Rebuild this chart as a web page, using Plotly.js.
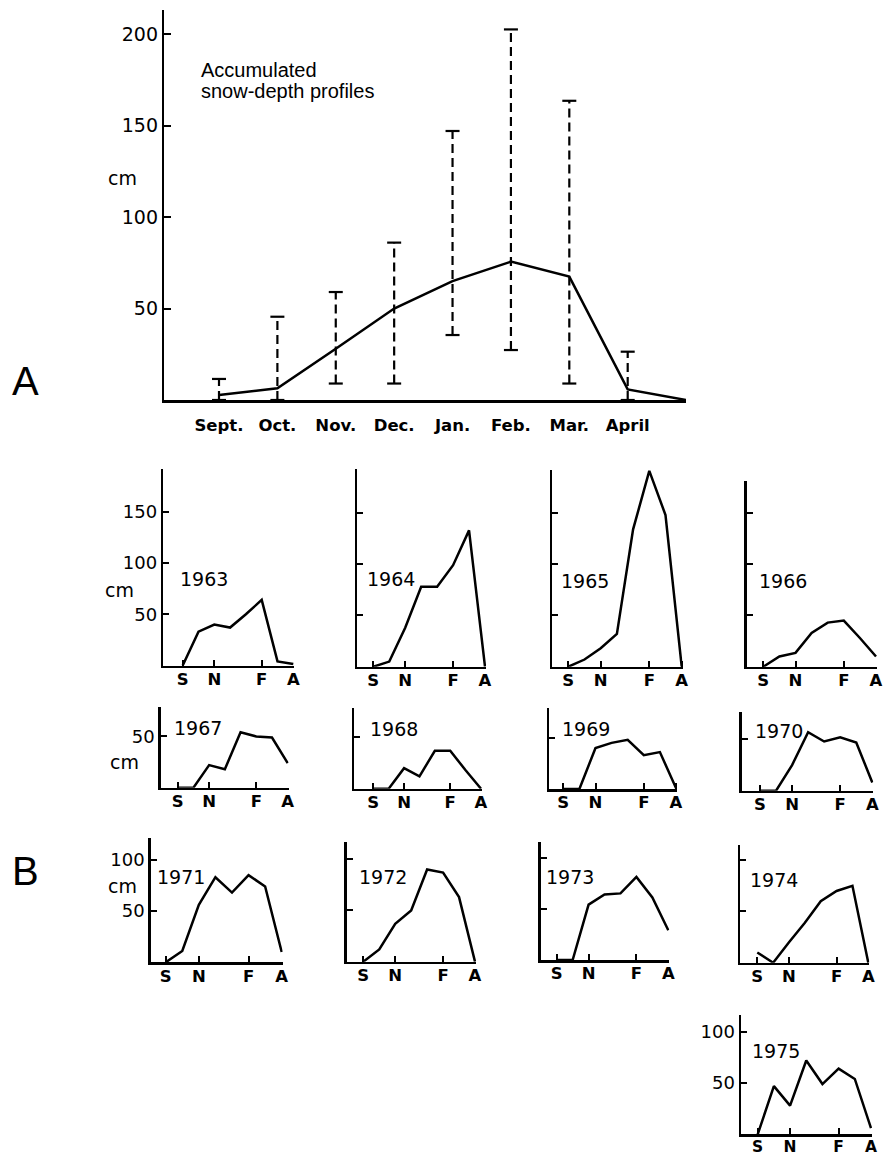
<!DOCTYPE html>
<html><head><meta charset="utf-8">
<script src="https://cdn.plot.ly/plotly-3.0.1.min.js"></script>
<style>html,body{margin:0;padding:0;background:#fff}#chart{width:883px;height:1159px}</style>
</head><body><div id="chart"></div>
<script>
// ---------- DATA ----------
// Panel A: accumulated snow-depth profiles (cm)
const monthsA = ['Sept.', 'Oct.', 'Nov.', 'Dec.', 'Jan.', 'Feb.', 'Mar.', 'April'];
const meanA = [2.7, 6.4, 28, 50, 65, 75.6, 67.4, 5.8, 0]; // last value: end of season (early May)
const highA = [11.5, 45.5, 59, 86, 147, 202.5, 163.5, 26.4];
const lowA  = [0, 0, 9, 9, 35.5, 27.3, 9, 0];

// Panel B: yearly snow-depth profiles (cm), Sep..Apr
const monthsB = ['Sep', 'Oct', 'Nov', 'Dec', 'Jan', 'Feb', 'Mar', 'Apr'];
const monthTickLabels = ['S', 'N', 'F', 'A'];
const monthTickNames = ['Sep', 'Nov', 'Feb', 'Apr'];
const years = ['1963', '1964', '1965', '1966', '1967', '1968', '1969', '1970', '1971', '1972', '1973', '1974', '1975'];
const d1963 = [0, 33, 40, 37, 50, 64, 4, 1.5];
const d1964 = [0, 5, 38, 78, 78, 99, 133, 0];
const d1965 = [0, 7, 18, 32, 134, 191, 148, 0];
const d1966 = [0, 10, 13.5, 33, 43, 45, 28, 10];
const d1967 = [0, 0, 22, 18, 54, 50, 49, 24];
const d1968 = [0, 0, 20, 12, 37, 37, 18, 0];
const d1969 = [0, 0, 40, 45, 48, 33, 36, 1];
const d1970 = [0, 0, 25, 57, 48, 52, 47, 8];
const d1971 = [0, 11, 56, 83, 68, 85, 74, 10];
const d1972 = [0, 12, 37, 50, 90, 87, 63, 0];
const d1973 = [0, 0, 54, 64, 65, 81, 61, 29];
const d1974 = [10, 0, 20, 39, 60, 70, 75, 0];
const d1975 = [0, 47, 28, 72, 49, 64, 54, 6];
const seriesB = [d1963, d1964, d1965, d1966, d1967, d1968, d1969, d1970, d1971, d1972, d1973, d1974, d1975];
const yTicksA = [50, 100, 150, 200];
const yTicksRow1 = [50, 100, 150];
const yTicksRow2 = [50];
const yTicksRow3 = [50, 100];

// ---------- LAYOUT GEOMETRY (pixels) ----------
const W = 883, H = 1159;
const fx = p => p / W;
const fy = p => 1 - p / H;
// [left axis px, Sep px, Apr px, baseline px, top px]
const geom = [
  [163.3, 182.7, 293.3, 665.5, 469.3],
  [357.3, 373.3, 485, 666.7, 468.5],
  [552.3, 568.3, 681.7, 666.7, 470],
  [746.7, 763.3, 876, 666.7, 481],
  [160.7, 177.7, 287.7, 787.7, 706.7],
  [354, 373.3, 481, 788.7, 708.3],
  [549.3, 563.3, 676, 789, 708.3],
  [741.7, 760, 872.3, 790.7, 712],
  [150.7, 165.7, 281.7, 962.3, 837.7],
  [346.7, 363.3, 475, 961.7, 841.7],
  [540.7, 556.7, 668.3, 960, 842.3],
  [740, 757.3, 868.3, 962.7, 845],
  [741, 757.7, 871, 1134.3, 1015]
];
const rowTicks = [yTicksRow1, yTicksRow1, yTicksRow1, yTicksRow1,
                  yTicksRow2, yTicksRow2, yTicksRow2, yTicksRow2,
                  yTicksRow3, yTicksRow3, yTicksRow3, yTicksRow3, yTicksRow3];
const showYLabels = [true, false, false, false, true, false, false, false, true, false, false, false, true];
// year label positions [left px, middle px]
const yearPos = [[178, 579], [365, 579], [559, 581], [757, 581],
                 [172, 728], [368, 729], [560, 729], [753, 731],
                 [155, 877], [357, 877], [544, 877], [748, 880], [750, 1051]];
const pxPerCm = 1.025;

const FONT = 'DejaVu Sans, sans-serif';
const black = '#000';
const LW = 2.5;

const traces = [];
const layout = {
  width: W, height: H,
  margin: {l: 0, r: 0, t: 0, b: 0},
  paper_bgcolor: '#fff', plot_bgcolor: 'rgba(0,0,0,0)',
  showlegend: false,
  font: {family: FONT, color: black},
  annotations: []
};

// ---------- PANEL A ----------
const kA = (627.7 - 219) / 7;
const xA = meanA.map((_, i) => i + 1);
layout.xaxis = {
  domain: [fx(164.3), fx(686)],
  range: [1 - (219 - 164.3) / kA, 1 + (686 - 219) / kA],
  showline: true, linewidth: LW, linecolor: black,
  showgrid: false, zeroline: false,
  tickvals: monthsA.map((_, i) => i + 1), ticktext: monthsA,
  ticks: '', ticklabelstandoff: 9,
  tickfont: {family: FONT, size: 16.5, weight: 'bold', color: black},
  anchor: 'y', fixedrange: true
};
layout.yaxis = {
  domain: [fy(400), fy(10)],
  range: [0, 390 / 1.83],
  showline: true, linewidth: LW, linecolor: black,
  showgrid: false, zeroline: false,
  tickvals: yTicksA, ticks: 'inside', ticklen: 7, tickwidth: 2, tickcolor: black,
  tickfont: {family: FONT, size: 19, color: black},
  anchor: 'x', fixedrange: true
};
// error bars (dashed ranges)
const ebx = [], eby = [], capx = [], capy = [];
highA.forEach((h, i) => {
  ebx.push(i + 1, i + 1, null); eby.push(lowA[i], h, null);
  capx.push(i + 1, i + 1); capy.push(lowA[i], h);
});
traces.push({x: ebx, y: eby, xaxis: 'x', yaxis: 'y', mode: 'lines',
  line: {color: black, width: 2.2, dash: '9px,5px'}, hoverinfo: 'skip'});
traces.push({x: capx, y: capy, xaxis: 'x', yaxis: 'y', mode: 'markers', cliponaxis: false,
  marker: {symbol: 'line-ew', size: 10, line: {color: black, width: 2.2}}, hoverinfo: 'skip'});
traces.push({x: xA, y: meanA, xaxis: 'x', yaxis: 'y', mode: 'lines',
  line: {color: black, width: LW}});

layout.annotations.push(
  {text: 'Accumulated', x: fx(199), y: fy(70), xref: 'paper', yref: 'paper', xanchor: 'left', yanchor: 'middle', showarrow: false,
   font: {family: 'Liberation Sans, sans-serif', size: 20, color: black}},
  {text: 'snow-depth profiles', x: fx(199), y: fy(91), xref: 'paper', yref: 'paper', xanchor: 'left', yanchor: 'middle', showarrow: false,
   font: {family: 'Liberation Sans, sans-serif', size: 20, color: black}},
  {text: 'cm', x: fx(122), y: fy(178), xref: 'paper', yref: 'paper', xanchor: 'center', yanchor: 'middle', showarrow: false,
   font: {family: FONT, size: 19, color: black}},
  {text: 'A', x: fx(25), y: fy(381), xref: 'paper', yref: 'paper', xanchor: 'center', yanchor: 'middle', showarrow: false,
   font: {family: 'Liberation Sans, sans-serif', size: 40, color: black}},
  {text: 'B', x: fx(25), y: fy(871), xref: 'paper', yref: 'paper', xanchor: 'center', yanchor: 'middle', showarrow: false,
   font: {family: 'Liberation Sans, sans-serif', size: 40, color: black}}
);
// "cm" labels for panel B rows
[[119, 590], [124, 762], [122, 886]].forEach(p => layout.annotations.push(
  {text: 'cm', x: fx(p[0]), y: fy(p[1]), xref: 'paper', yref: 'paper', xanchor: 'center', yanchor: 'middle', showarrow: false,
   font: {family: FONT, size: 19, color: black}}));

// ---------- PANEL B ----------
const xB = monthsB.map((_, i) => i);
const tickIdx = monthTickNames.map(m => monthsB.indexOf(m));
years.forEach((yr, j) => {
  const n = j + 2;
  const [L, S, A, B, T] = geom[j];
  const k = (A - S) / 7;
  const last = j === years.length - 1;
  layout['xaxis' + n] = {
    domain: [fx(L), Math.min(1, fx(A + 1))],
    range: [-(S - L) / k, 7 + 1 / k],
    showline: true, linewidth: LW, linecolor: black,
    showgrid: false, zeroline: false,
    tickvals: tickIdx, ticktext: monthTickLabels,
    ticks: 'inside', ticklen: 6, tickwidth: 2, tickcolor: black, ticklabelstandoff: -3,
    tickfont: {family: FONT, size: last ? 15.5 : 16.5, weight: 'bold', color: black},
    anchor: 'y' + n, fixedrange: true
  };
  layout['yaxis' + n] = {
    domain: [fy(B), fy(T)],
    range: [0, (B - T) / pxPerCm],
    showline: true, linewidth: LW, linecolor: black,
    showgrid: false, zeroline: false,
    tickvals: rowTicks[j], ticks: 'inside', ticklen: 6, tickwidth: 2, tickcolor: black,
    showticklabels: showYLabels[j],
    tickfont: {family: FONT, size: 18, color: black},
    anchor: 'x' + n, fixedrange: true
  };
  traces.push({x: xB, y: seriesB[j], xaxis: 'x' + n, yaxis: 'y' + n, mode: 'lines',
    line: {color: black, width: LW}, name: yr});
  layout.annotations.push({text: yr, x: fx(yearPos[j][0]), y: fy(yearPos[j][1]), xref: 'paper', yref: 'paper',
    xanchor: 'left', yanchor: 'middle', showarrow: false, font: {family: FONT, size: 19, color: black}});
});

Plotly.newPlot('chart', traces, layout, {displayModeBar: false, staticPlot: true});
</script>
</body></html>
